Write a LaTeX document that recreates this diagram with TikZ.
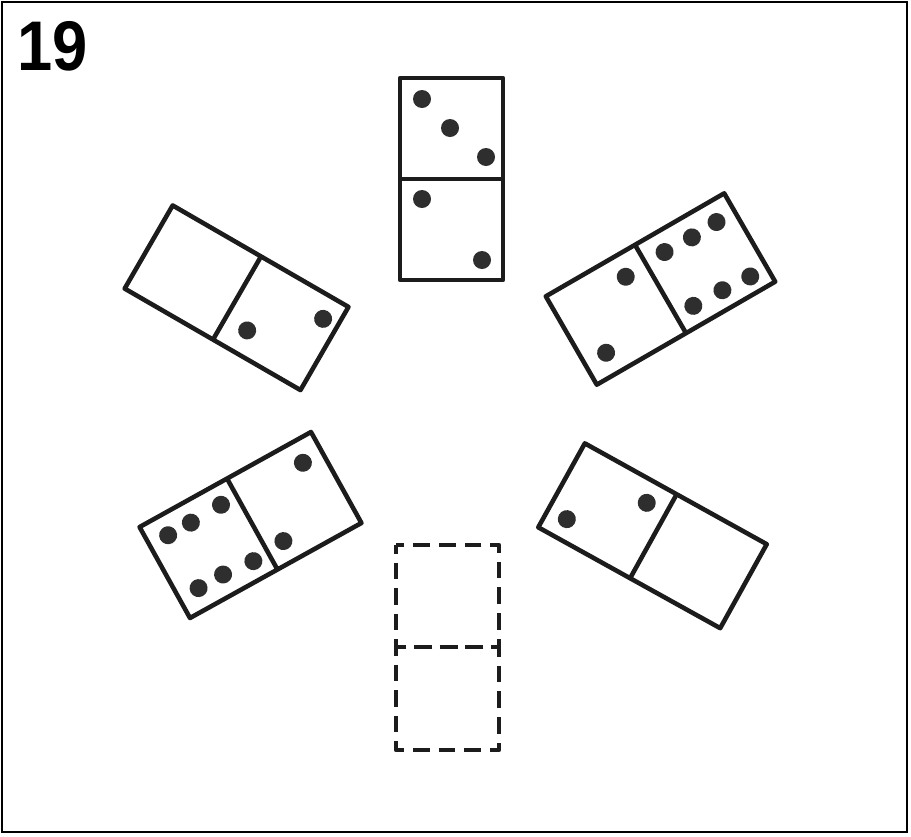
\documentclass[tikz,border=0pt]{standalone}
\usepackage{fontspec}
\setmainfont{Liberation Sans}
\usepackage{xcolor}
\usepackage{tikz}
\definecolor{dmink}{HTML}{1C1C1C}
\definecolor{dmpip}{HTML}{2E2E2E}
\tikzset{
  tile/.style  = {draw=dmink, line width=2.6pt, line join=round},
  ghost/.style = {draw=dmink, line width=2.6pt, line join=round,
                  dash pattern=on 0.332cm off 0.18cm, dash phase=0.16cm},
  pip/.style   = {fill=dmpip},
  frame/.style = {draw=black, line width=1.3pt},
  num/.style   = {font=\bfseries\fontsize{40}{40}\selectfont, inner sep=0pt,
                  anchor=north west, xscale=0.9, transform shape},
}

\begin{document}
\begin{tikzpicture}[x=0.02cm,y=-0.02cm]
  \useasboundingbox (0,0) rectangle (911,836);
  \draw[frame] (2,2) rectangle (907,832);
  \node[num] (nr) at (17,21) {19};

  % top: 3 over 2
  \begin{scope}[shift={(451.5,179)}, rotate=-90]
    \draw[tile] (-101,-51.5) rectangle (101,51.5) (0,-51.5) -- (0,51.5);
    \foreach \a/\b in {-80/29.5,-51/1.5,-22/-34.5,20/29.5,81/-30.5}
      \fill[pip] (\a,\b) circle (0.18cm);
  \end{scope}

  % upper left: blank and 2
  \begin{scope}[shift={(237,298)}, rotate=-30]
    \draw[tile] (-102,-48) rectangle (101,48) (0,-48) -- (0,48);
    \foreach \a/\b in {25/23,85/-25}
      \fill[pip] (\a,\b) circle (0.18cm);
  \end{scope}

  % upper right: 2 and 6
  \begin{scope}[shift={(660.5,289)}, rotate=30]
    \draw[tile] (-103,-51) rectangle (103,51) (0,-51) -- (0,51);
    \foreach \a/\b in {-24/-28,-79/28,22/-30,53/-29,82/-30,20/31,53/32,84/34}
      \fill[pip] (\a,\b) circle (0.18cm);
  \end{scope}

  % lower left: 6 and 2
  \begin{scope}[shift={(250.5,525)}, rotate=29]
    \draw[tile] (-98,-52) rectangle (98,52) (2,-52) -- (2,52);
    \foreach \a/\b in {-77/-31,-51/-31,-16/-32,-76/30,-48/30,-15/33,76/-29,21/30}
      \fill[pip] (\a,\b) circle (0.18cm);
  \end{scope}

  % lower right: 2 and blank
  \begin{scope}[shift={(652.5,535.75)}, rotate=-29]
    \draw[tile] (-104,-48) rectangle (104,48) (1,-48) -- (1,48);
    \foreach \a/\b in {-83/27,-21/-26}
      \fill[pip] (\a,\b) circle (0.18cm);
  \end{scope}

  % missing tile
  \draw[ghost] (396,545) rectangle (499,647);
  \draw[ghost] (396,647) rectangle (499,750);
\end{tikzpicture}
\end{document}
